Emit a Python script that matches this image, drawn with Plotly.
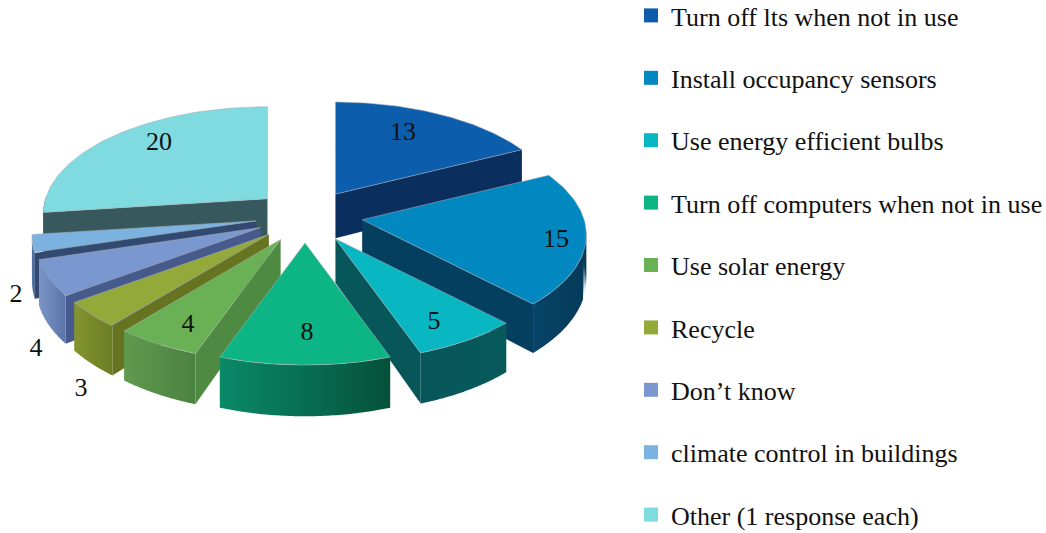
import numpy as np
import plotly.graph_objects as go

# ---- data ----
CATEGORIES = ["Turn off lts when not in use", "Install occupancy sensors", "Use energy efficient bulbs",
              "Turn off computers when not in use", "Use solar energy", "Recycle", "Don’t know",
              "climate control in buildings", "Other (1 response each)"]
VALUES = [13, 15, 5, 8, 4, 3, 4, 2, 20]

# ---- styles ----
TOP = ["#0c5dab", "#0288c0", "#09b7c3", "#0db585", "#6ab155", "#93a93a", "#7b97cf", "#7bb2e0", "#80dbe0"]
SIDE = ["#0a2f5f", "#053f60", "#07565a", "#0a7d5e", "#4f8a42", "#66731f", "#475a8c", "#324a72", "#37595e"]
ARC_L = ["#0a2f5f", "#07456a", "#07565a", "#0a8a68", "#5f9a4e", "#83942f", "#7a95c8", "#5a7db0", "#37595e"]
ARC_R = ["#0a2f5f", "#053a58", "#075a5c", "#05513a", "#4b8240", "#6d7d25", "#5a74a8", "#3a5a86", "#37595e"]
FONT = "Liberation Serif"
LABEL_X = [403, 556, 434, 307, 188, 81, 36, 16, 159]
LABEL_Y = [133, 240, 322, 333, 325, 389, 349, 295, 143]

# ---- exploded-pie projection parameters (pixel axes) ----
CX, CY = 305, 215
RX, RY, K = 222, 105, 0.14
PULL_RIGHT, PULL_LEFT, PULL_BACK, PULL_FRONT = 58, 50, 24.5, 28
DEPTH = 44
DRAW_ORDER = [8, 0, 1, 2, 7, 6, 5, 4, 3]

total = sum(VALUES)
edges = np.concatenate([[0], np.cumsum(VALUES)]) / total * 2 * np.pi


def project(theta, r=1.0):
    X, Y = r * np.sin(theta), -r * np.cos(theta)
    s = 1 / (1 - K * Y)
    return RX * X * s, RY * Y * s, DEPTH * s


fig = go.Figure()


def poly(xs, ys, color=None, grad=None, line=None):
    kw = dict(x=list(xs), y=list(ys), fill="toself", hoverinfo="skip", showlegend=False)
    if line:
        kw.update(mode="lines", line=dict(color=line, width=1))
    else:
        kw.update(mode="none")
    if grad:
        kw["fillgradient"] = dict(type="horizontal", colorscale=[[0, grad[0]], [1, grad[1]]])
    else:
        kw["fillcolor"] = color
    fig.add_trace(go.Scatter(**kw))


for i in DRAW_ORDER:
    a0, a1 = edges[i], edges[i + 1]
    mid = (a0 + a1) / 2
    ax = CX + (PULL_RIGHT if np.sin(mid) > 0 else PULL_LEFT) * np.sin(mid)
    ay = CY - (PULL_BACK if np.cos(mid) > 0 else PULL_FRONT) * np.cos(mid)
    th = np.linspace(a0, a1, 60)
    px, py, pd = project(th)
    ox, oy = ax + px, ay + py
    d0 = DEPTH
    # radial walls facing the viewer
    if np.sin(a0) < -1e-6:
        x0, y0, z0 = project(a0)
        poly([ax, ax + x0, ax + x0, ax], [ay, ay + y0, ay + y0 + z0, ay + d0], SIDE[i])
    if np.sin(a1) > 1e-6:
        x1, y1, z1 = project(a1)
        poly([ax, ax + x1, ax + x1, ax], [ay, ay + y1, ay + y1 + z1, ay + d0], SIDE[i])
    # outer wall where it faces the viewer
    vis = -np.cos(th) > -0.02
    if vis.sum() > 1:
        vx, vy, vd = ox[vis], oy[vis], pd[vis]
        order = np.argsort(vx)
        vx, vy, vd = vx[order], vy[order], vd[order]
        poly(np.concatenate([vx, vx[::-1]]), np.concatenate([vy, (vy + vd)[::-1]]), grad=(ARC_L[i], ARC_R[i]))
    # top face
    poly(np.concatenate([[ax], ox, [ax]]), np.concatenate([[ay], oy, [ay]]), TOP[i], line="rgba(170,175,180,0.55)")

# data labels
fig.add_trace(go.Scatter(x=LABEL_X, y=LABEL_Y, mode="text", text=[str(v) for v in VALUES],
                         textfont=dict(family=FONT, size=26, color="#111"), hoverinfo="skip", showlegend=False))

# legend entries
for i, name in enumerate(CATEGORIES):
    fig.add_trace(go.Scatter(x=[None], y=[None], mode="markers", name=name, legendgroup=name,
                             marker=dict(symbol="square", size=14, color=TOP[i])))

fig.update_layout(
    width=1046, height=533, margin=dict(l=0, r=0, t=0, b=0, autoexpand=False),
    paper_bgcolor="white", plot_bgcolor="white",
    xaxis=dict(range=[0, 1046], visible=False, fixedrange=True),
    yaxis=dict(range=[533, 0], visible=False, fixedrange=True),
    legend=dict(x=639 / 1046, y=1.015, xanchor="left", yanchor="top", font=dict(family=FONT, size=26, color="#111"),
                tracegroupgap=25.6, traceorder="grouped", itemclick=False, itemdoubleclick=False,
                indentation=-8, maxheight=600, bgcolor="rgba(0,0,0,0)"),
)
fig.write_html("out.html", post_script="document.body.style.margin='0';", config={"displayModeBar": False})
